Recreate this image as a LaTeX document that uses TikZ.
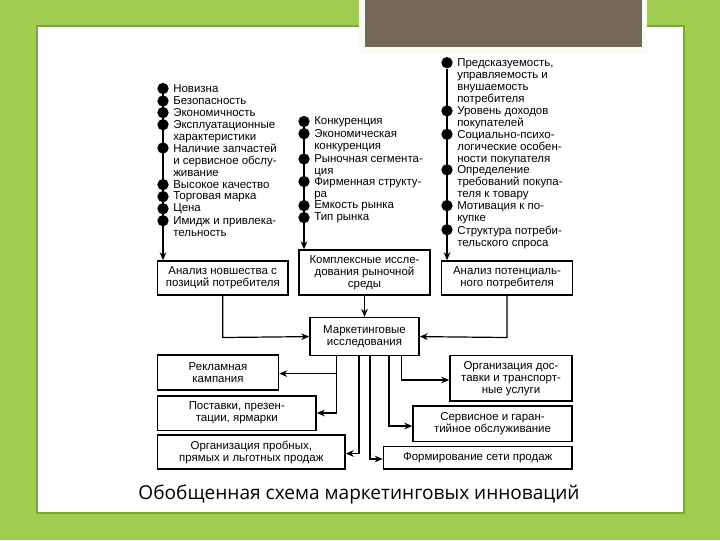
\documentclass[tikz,border=0pt]{standalone}
\usepackage{fontspec}
\setmainfont{Liberation Sans}
\newfontfamily\capfont{Open Sans}
\usetikzlibrary{arrows.meta}
\begin{document}
\begin{tikzpicture}[x=0.75pt,y=-0.75pt,
  txt/.style={font=\fontsize{8.6}{9}\selectfont,inner sep=0pt,align=left},
  bul/.style={circle,fill=black,inner sep=0pt,minimum size=8.5pt},
  box/.style={draw,line width=1.1pt,font=\fontsize{8.6}{9}\selectfont,align=center,inner sep=0pt},
  con/.style={line width=0.9pt,-{Stealth[length=6pt,width=5pt]}},
  ln/.style={line width=0.9pt}]
\definecolor{bg}{RGB}{160,205,80}
\definecolor{brd}{RGB}{120,170,50}
\definecolor{dark}{RGB}{116,105,89}
\useasboundingbox (0,0) rectangle (720,540);
\fill[bg] (0,0) rectangle (720,540);
\fill[white,draw=brd,line width=1pt] (37,26) rectangle (684,513);
\fill[white!92!bg] (359,0) rectangle (647,53.5);
\fill[dark] (365,0) rectangle (642,47);
% left column
\foreach \n/\y in {a1/88.5,a2/101,a3/112.6,a4/124.7,a5/148,a6/184.6,a7/196.6,a8/208.7,a9/220.7}
  \node[bul] (\n) at (163,\y) {};
\node[txt,anchor=west] at (173,88.5) {Новизна};
\node[txt,anchor=west] at (173,101) {Безопасность};
\node[txt,anchor=west] at (173,112.6) {Экономичность};
\node[txt,anchor=north west] at (173,120.5) {Эксплуатационные\\характеристики};
\node[txt,anchor=north west] at (173,143.8) {Наличие запчастей\\и сервисное обслу-\\живание};
\node[txt,anchor=west] at (173,184.6) {Высокое качество};
\node[txt,anchor=west] at (173,196.6) {Торговая марка};
\node[txt,anchor=west] at (173,208.7) {Цена};
\node[txt,anchor=north west] at (173,216.5) {Имидж и привлека-\\тельность};
\node[box,minimum width=130.5*0.75pt,minimum height=34*0.75pt] (b1) at (222.75,278) {Анализ новшества с\\позиций потребителя};
% middle
\foreach \n/\y in {m1/121.5,m2/133.6,m3/159,m4/181.5,m5/205.6,m6/217.6}
  \node[bul] (\n) at (304,\y) {};
\node[txt,anchor=west] at (314,121.5) {Конкуренция};
\node[txt,anchor=north west] at (314,129.4) {Экономическая\\конкуренция};
\node[txt,anchor=north west] at (314,154.8) {Рыночная сегмента-\\ция};
\node[txt,anchor=north west] at (314,177.3) {Фирменная структу-\\ра};
\node[txt,anchor=west] at (314,205.6) {Емкость рынка};
\node[txt,anchor=west] at (314,217.6) {Тип рынка};
\node[box,minimum width=131*0.75pt,minimum height=45*0.75pt] (b2) at (364.5,272.5) {Комплексные иссле-\\дования рыночной\\среды};
% right
\foreach \n/\y in {r1/62.7,r2/110.9,r3/134.3,r4/169.8,r5/205.6,r6/229.7}
  \node[bul] (\n) at (447,\y) {};
\node[txt,anchor=north west] at (457,58.5) {Предсказуемость,\\управляемость и\\внушаемость\\потребителя};
\node[txt,anchor=north west] at (457,106.7) {Уровень доходов\\покупателей};
\node[txt,anchor=north west] at (457,130.1) {Социально-психо-\\логические особен-\\ности покупателя};
\node[txt,anchor=north west] at (457,165.6) {Определение\\требований покупа-\\теля к товару};
\node[txt,anchor=north west] at (457,201.4) {Мотивация к по-\\купке};
\node[txt,anchor=north west] at (457,225.5) {Структура потреби-\\тельского спроса};
\node[box,minimum width=130.5*0.75pt,minimum height=34*0.75pt] (b3) at (507,278) {Анализ потенциаль-\\ного потребителя};
% center
\node[box,minimum width=109*0.75pt,minimum height=38*0.75pt] (c) at (364.5,336.6) {Маркетинговые\\исследования};
% bottom boxes
\node[box,minimum width=121*0.75pt,minimum height=35*0.75pt] (d1) at (218,372.7) {Рекламная\\кампания};
\node[box,minimum width=158.5*0.75pt,minimum height=34.5*0.75pt] (d2) at (236.8,413.2) {Поставки, презен-\\тации, ярмарки};
\node[box,minimum width=187.5*0.75pt,minimum height=34*0.75pt] (d3) at (251.3,452) {Организация пробных,\\прямых и льготных продаж};
\node[box,minimum width=122*0.75pt,minimum height=45.6*0.75pt] (e1) at (511,378.2) {Организация дос-\\тавки и транспорт-\\ные услуги};
\node[box,minimum width=159*0.75pt,minimum height=35.5*0.75pt] (e2) at (492.5,423.8) {Сервисное и гаран-\\тийное обслуживание};
\node[box,minimum width=188.6*0.75pt,minimum height=22.4*0.75pt] (e3) at (477.7,457.8) {Формирование сети продаж};
% connectors
\draw[con] (a1) -- (a1 |- b1.north);
\draw[con] (m1) -- (m1 |- b2.north);
\draw[con] (r1) -- (r1 |- b3.north);
\draw[con] (b2) -- (c);
\draw[con] (b1.south) -- (222.75,337.5) -- (c.west);
\draw[con] (b3.south) -- (507,337.5) -- (c.east);
\coordinate (k1) at (336.5,373.6);
\draw[con] (c.south -| k1) -- (k1) -- (d1.east |- k1);
\draw[con] (k1) -- (336.5,413) -- (d2.east |- 0,413);
\draw[con] (c.south -| 359,0) -- (359,453.5) -- (d3.east |- 0,453.5);
\draw[con] (c.south -| 370,0) -- (370,459) -- (e3.west |- 0,459);
\draw[con] (c.south -| 389,0) -- (389,426) -- (e2.west |- 0,426);
\draw[con] (c.south -| 401.7,0) -- (401.7,380) -- (e1.west |- 0,380);
\node[font=\capfont\fontsize{14.3}{16}\selectfont,anchor=center] (cap) at (359,494) {Обобщенная схема маркетинговых инноваций};
\end{tikzpicture}
\end{document}
